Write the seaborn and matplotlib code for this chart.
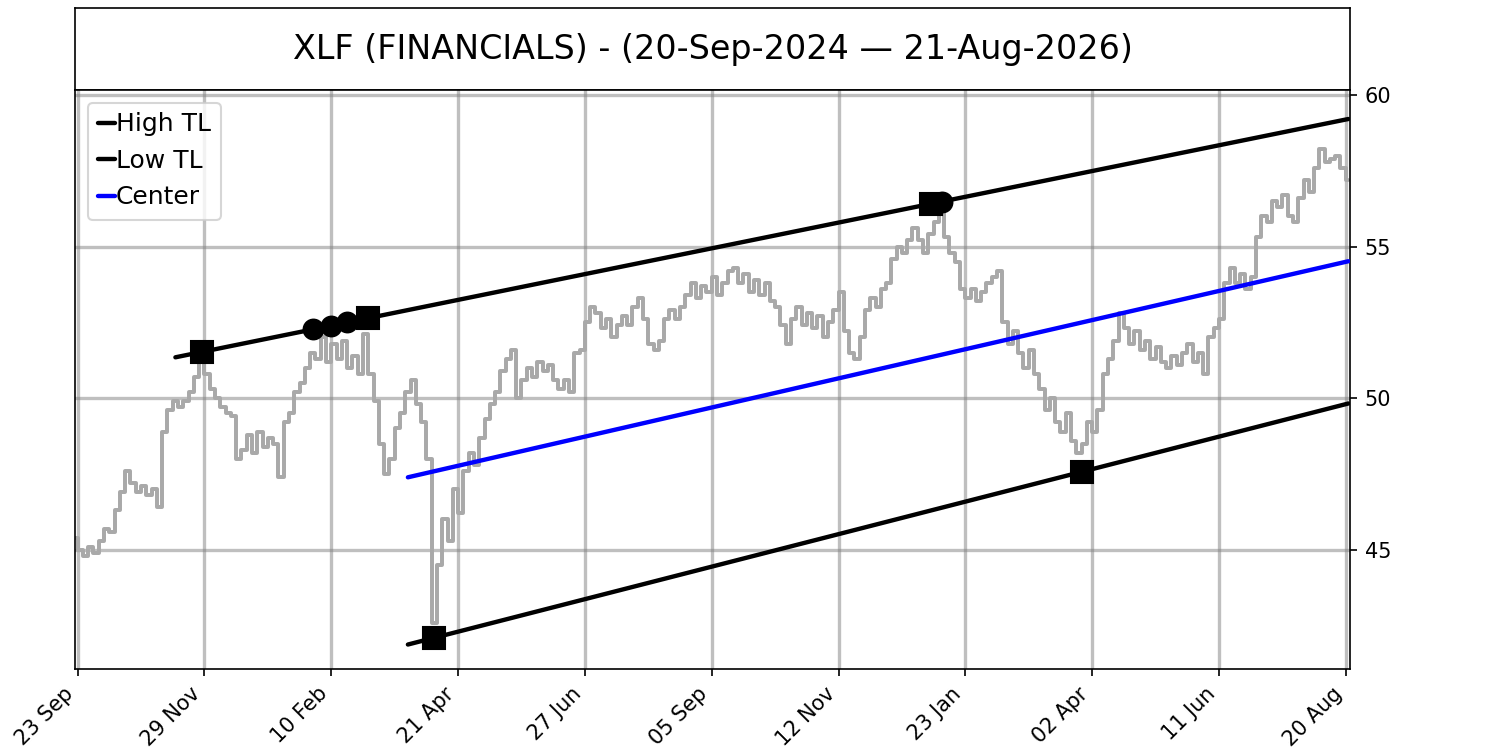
import matplotlib
matplotlib.use("Agg")
import matplotlib.pyplot as plt
import numpy as np
import pandas as pd
import seaborn as sns

title = "XLF (FINANCIALS) - (20-Sep-2024 \u2014 21-Aug-2026)"

# closing price, read every 2nd trading day (bar 0 = 20 Sep 2024, last bar = 482)
bar_step = 2
close = [
    45.4, 45.0, 44.8, 45.1, 44.9, 45.3, 45.7, 45.6, 46.3, 46.9,
    47.6, 47.2, 46.9, 47.1, 46.8, 47.0, 46.4, 48.9, 49.6, 49.9,
    49.7, 49.9, 50.2, 50.7, 51.2, 50.8, 50.3, 50.0, 49.7, 49.5,
    49.4, 48.0, 48.3, 48.8, 48.2, 48.9, 48.4, 48.7, 48.5, 47.4,
    49.2, 49.5, 50.2, 50.5, 51.0, 51.5, 51.3, 52.0, 51.2, 51.8,
    51.3, 51.9, 51.0, 51.4, 50.8, 52.1, 50.8, 49.9, 48.5, 47.5,
    48.0, 49.0, 49.5, 50.2, 50.6, 49.8, 49.2, 48.0, 42.6, 44.5,
    46.0, 45.3, 47.0, 46.2, 47.6, 48.2, 47.8, 48.7, 49.3, 49.8,
    50.2, 50.9, 51.3, 51.6, 50.0, 50.6, 51.0, 50.7, 51.2, 50.9,
    51.1, 50.6, 50.3, 50.6, 50.2, 51.5, 51.6, 52.5, 53.0, 52.8,
    52.3, 52.6, 52.0, 52.4, 52.7, 52.4, 53.0, 53.3, 52.6, 51.8,
    51.6, 51.9, 52.6, 52.9, 52.6, 53.0, 53.4, 53.8, 53.3, 53.7,
    53.5, 54.0, 53.4, 53.8, 54.2, 54.3, 53.8, 54.1, 53.5, 53.9,
    53.4, 53.8, 53.2, 53.0, 52.4, 51.8, 52.6, 53.0, 52.4, 52.8,
    52.3, 52.7, 52.0, 52.5, 52.9, 53.5, 52.2, 51.5, 51.3, 52.0,
    52.9, 53.3, 53.0, 53.6, 53.8, 54.6, 55.0, 54.8, 55.2, 55.6,
    55.2, 54.8, 55.4, 55.8, 56.1, 55.3, 54.8, 54.5, 53.6, 53.3,
    53.6, 53.2, 53.5, 53.8, 54.0, 54.2, 52.5, 51.8, 52.2, 51.5,
    51.0, 51.6, 50.8, 50.3, 49.6, 50.0, 49.2, 48.9, 49.5, 48.6,
    48.2, 48.5, 49.2, 48.9, 49.6, 50.8, 51.3, 51.9, 52.8, 52.3,
    51.8, 52.2, 51.6, 51.9, 51.3, 51.7, 51.2, 51.0, 51.4, 51.1,
    51.5, 51.8, 51.2, 51.5, 50.8, 52.0, 52.3, 52.6, 53.8, 54.3,
    53.8, 54.1, 53.6, 54.0, 55.3, 56.0, 55.8, 56.5, 56.3, 56.7,
    56.0, 55.8, 56.6, 57.2, 56.8, 57.6, 58.2, 57.8, 57.9, 58.0,
    57.6, 57.2,
]

# trend line pivots (bar index, price)
high_pivot_bars = [48, 111, 324]
high_pivot_vals = [51.53, 52.63, 56.41]
high_touch_bars = [90, 97, 103, 328]
low_pivot_bars = [136, 381]
low_pivot_vals = [42.10, 47.57]
line_lead = 10  # bars drawn before the first pivot

# x tick labels, one every 48 bars starting at bar 1
tick_labels = ["23 Sep", "29 Nov", "10 Feb", "21 Apr", "27 Jun", "05 Sep",
               "12 Nov", "23 Jan", "02 Apr", "11 Jun", "20 Aug"]
tick_first = 1
tick_every = 48
y_ticks = [45, 50, 55, 60]

df = pd.DataFrame({"bar": np.arange(len(close)) * bar_step, "close": close})
last_bar = df["bar"].iloc[-1]

hi_fit = np.polyfit(high_pivot_bars, high_pivot_vals, 1)
lo_fit = np.polyfit(low_pivot_bars, low_pivot_vals, 1)
hi_x = np.array([high_pivot_bars[0] - line_lead, last_bar])
lo_x = np.array([low_pivot_bars[0] - line_lead, last_bar])
center_y = (np.polyval(hi_fit, lo_x) + np.polyval(lo_fit, lo_x)) / 2

sns.set_style("ticks", rc={"text.color": "black", "axes.labelcolor": "black",
                           "xtick.color": "black", "ytick.color": "black",
                           "axes.edgecolor": "black"})
plt.rcParams["font.family"] = ["DejaVu Sans"]

fig = plt.figure(figsize=(10, 5), dpi=150)
ax_t = fig.add_axes([0.05, 0.88, 0.85, 0.109])
ax = fig.add_axes([0.05, 0.108, 0.85, 0.772])

ax_t.set_xticks([])
ax_t.set_yticks([])
ax_t.text(0.5, 0.5, title, ha="center", va="center", fontsize=16, transform=ax_t.transAxes)

sns.lineplot(data=df, x="bar", y="close", ax=ax, color="darkgray", lw=1.9,
             drawstyle="steps-mid", zorder=2)
ax.plot(hi_x, np.polyval(hi_fit, hi_x), color="black", lw=2.1, label="High TL", zorder=3)
ax.plot(lo_x, np.polyval(lo_fit, lo_x), color="black", lw=2.1, label="Low TL", zorder=3)
ax.plot(lo_x, center_y, color="blue", lw=2.1, label="Center", zorder=3)

ax.plot(high_pivot_bars, np.polyval(hi_fit, high_pivot_bars), "s", color="black", ms=10.5, zorder=4)
ax.plot(high_touch_bars, np.polyval(hi_fit, high_touch_bars), "o", color="black", ms=9.5, zorder=4)
ax.plot(low_pivot_bars, np.polyval(lo_fit, low_pivot_bars), "s", color="black", ms=10.5, zorder=4)

ticks = np.arange(tick_first, last_bar + 1, tick_every)
ax.set_xticks(ticks)
ax.set_xticklabels(tick_labels, rotation=45, ha="right")
ax.set_yticks(y_ticks)
ax.yaxis.tick_right()
ax.set_xlim(0, last_bar + 0.6)
ax.set_ylim(41.07, 60.16)
ax.set_xlabel("")
ax.set_ylabel("")
ax.grid(color="gray", alpha=0.5, lw=1.6)
for a in (ax, ax_t):
    for s in a.spines.values():
        s.set_visible(True)
        s.set_color("black")

ax.legend(loc="upper left", fontsize=12, handlelength=0.7, handletextpad=0.02)

fig.savefig("out.png", dpi=150)
